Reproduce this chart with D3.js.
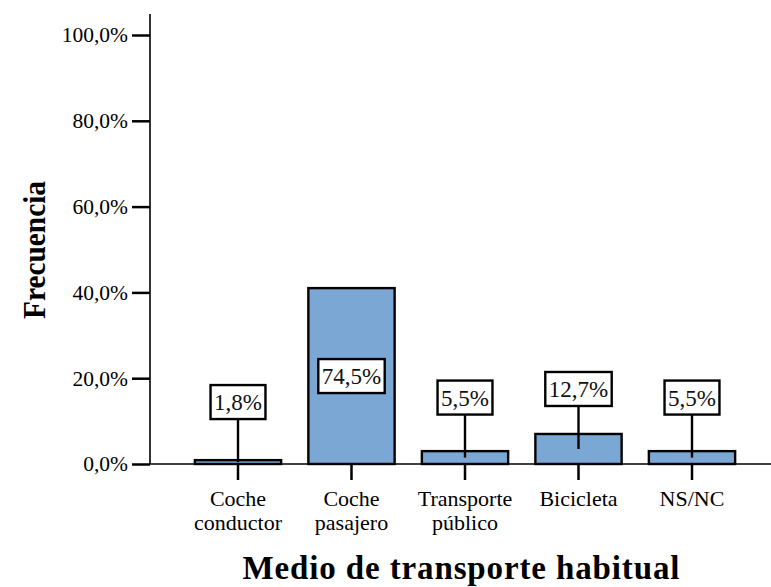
<!DOCTYPE html>
<html>
<head>
<meta charset="utf-8">
<script src="https://cdn.jsdelivr.net/npm/d3@7"></script>
<style>
  html, body { margin: 0; padding: 0; background: #fff; }
  svg { display: block; }
  svg text { font-family: "Liberation Serif", "Tinos", "Times New Roman", "DejaVu Serif", serif !important; }
</style>
</head>
<body>
<svg id="chart" width="771" height="587"></svg>
<script>
// ---- data ----
const categories = ["Coche conductor", "Coche pasajero", "Transporte público", "Bicicleta", "NS/NC"];
const categoryLines = [["Coche", "conductor"], ["Coche", "pasajero"], ["Transporte", "público"], ["Bicicleta"], ["NS/NC"]];
const barValues = [0.9, 41.0, 3.0, 7.0, 3.0];
const labelTexts = ["1,8%", "74,5%", "5,5%", "12,7%", "5,5%"];
const yTicks = [0, 20, 40, 60, 80, 100];
const yTitle = "Frecuencia";
const xTitle = "Medio de transporte habitual";

// ---- layout ----
const svg = d3.select("#chart");
const axisX = 150, axisY = 464, axisTop = 14, plotRight = 771;
const barFill = "#7ba7d5";

const y = d3.scaleLinear().domain([0, 100]).range([464, 35]);
const x = d3.scaleBand().domain(categories).range([181.25, 748.75])
  .paddingInner(0.24).paddingOuter(0.12);

const loc = d3.formatLocale({decimal: ",", thousands: ".", grouping: [3], currency: ["", "€"]});
const fmt = loc.format(".1f");

// bars
svg.append("g").selectAll("rect").data(categories).join("rect")
  .attr("x", d => x(d))
  .attr("y", (d, i) => y(barValues[i]))
  .attr("width", x.bandwidth())
  .attr("height", (d, i) => y(0) - y(barValues[i]))
  .attr("fill", barFill)
  .attr("stroke", "#000")
  .attr("stroke-width", 2.4);

// y axis
const yAxis = d3.axisLeft(y).tickValues(yTicks).tickSize(18).tickPadding(4)
  .tickFormat(d => fmt(d) + "%");
const gy = svg.append("g").attr("transform", `translate(${axisX},0)`).call(yAxis);
gy.attr("font-family", null).attr("font-size", null);
gy.select(".domain").remove();
gy.selectAll(".tick line").attr("stroke", "#000").attr("stroke-width", 2.5);
gy.selectAll(".tick text").attr("fill", "#000").style("font-size", "21.5px");
svg.append("line").attr("x1", axisX).attr("x2", axisX).attr("y1", axisTop).attr("y2", axisY)
  .attr("stroke", "#000").attr("stroke-width", 1.6);

// x axis
svg.append("line").attr("x1", axisX).attr("x2", plotRight).attr("y1", axisY).attr("y2", axisY)
  .attr("stroke", "#000").attr("stroke-width", 1.6);
const cx = d => x(d) + x.bandwidth() / 2;
svg.append("g").selectAll("line").data(categories).join("line")
  .attr("x1", cx).attr("x2", cx).attr("y1", axisY).attr("y2", axisY + 16)
  .attr("stroke", "#000").attr("stroke-width", 2.5);

const catG = svg.append("g").selectAll("text").data(categories).join("text")
  .attr("x", cx).attr("y", 506)
  .attr("text-anchor", "middle")
  .style("font-size", "22px").attr("fill", "#000");
catG.each(function(d, i) {
  const t = d3.select(this);
  categoryLines[i].forEach((line, j) => {
    t.append("tspan").attr("x", cx(d)).attr("dy", j === 0 ? 0 : 24).text(line);
  });
});

// value labels with leader lines
const labelG = svg.append("g");
categories.forEach((d, i) => {
  const top = y(barValues[i]);
  const mid = (top + y(0)) / 2;
  const tall = (y(0) - top) > 80;
  const cy = tall ? mid : mid - 60;
  const c = cx(d);
  const g = labelG.append("g");
  if (!tall) {
    g.append("line").attr("x1", c).attr("x2", c).attr("y1", cy).attr("y2", mid)
      .attr("stroke", "#000").attr("stroke-width", 2.4);
  }
  const rect = g.append("rect");
  const txt = g.append("text").attr("x", c).attr("y", cy).attr("dy", "0.35em")
    .attr("text-anchor", "middle").style("font-size", "23px").attr("fill", "#111")
    .text(labelTexts[i]);
  const bb = txt.node().getBBox();
  const w = bb.width + 7, h = 34;
  rect.attr("x", c - w / 2).attr("y", cy - h / 2).attr("width", w).attr("height", h)
    .attr("fill", "#fff").attr("stroke", "#000").attr("stroke-width", 2.4);
});

// titles
svg.append("text").attr("x", 461).attr("y", 579).attr("text-anchor", "middle")
  .attr("textLength", 437).attr("lengthAdjust", "spacing")
  .style("font-size", "33px").style("font-weight", "bold").attr("fill", "#000").text(xTitle);
svg.append("text").attr("transform", "translate(45,250) rotate(-90)").attr("text-anchor", "middle")
  .attr("textLength", 138).attr("lengthAdjust", "spacingAndGlyphs")
  .style("font-size", "31px").style("font-weight", "bold").attr("fill", "#000").text(yTitle);
</script>
</body>
</html>
